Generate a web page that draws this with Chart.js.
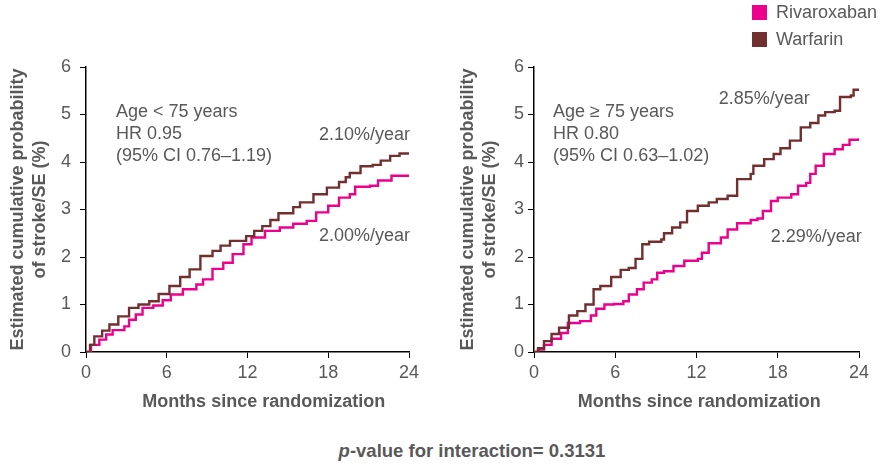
<!DOCTYPE html>
<html>
<head>
<meta charset="UTF-8">
<title>Stroke/SE by age</title>
<script src="https://cdn.jsdelivr.net/npm/chart.js"></script>
<style>
  body { margin: 0; background: #fff; font-family: "Liberation Sans", Arial, sans-serif; color: #595959; }
  #wrap { position: relative; width: 881px; height: 465px; overflow: hidden; }
  canvas { position: absolute; top: 0; }
  #left { left: 0; }
  #right { left: 448px; }
  .key { position: absolute; left: 752px; height: 15px; font-size: 18px; line-height: 15px; white-space: nowrap; }
  .key span { display: inline-block; width: 15px; height: 15px; vertical-align: top; margin-right: 9px; }
  #pval { position: absolute; left: 0; width: 944px; top: 440px; text-align: center; font-weight: bold; font-size: 18.5px; }
</style>
</head>
<body>
<div id="wrap">
  <canvas id="left" width="440" height="420"></canvas>
  <canvas id="right" width="433" height="420"></canvas>
  <div id="legend"></div>
  <div id="pval"><i>p</i>-value for interaction= 0.3131</div>
</div>
<script>
// series names and colours
const seriesNames = ['Rivaroxaban', 'Warfarin'];
const seriesColors = ['#ec008c', '#722f2f'];

// axis ticks
const monthTicks = [0, 6, 12, 18, 24];
const riskTicks = [0, 1, 2, 3, 4, 5, 6];

// Age < 75 years
const youngRivaMonths = [0, 0.37, 0.99, 1.5, 1.98, 2.85, 3.2, 3.7, 4.2, 5.0, 5.7, 6.3, 7.2, 8.2, 8.7, 9.4, 10.2, 10.9, 11.7, 12.3, 13.3, 14.4, 15.4, 16.4, 17.1, 18.0, 18.8, 19.6, 20.0, 21.1, 21.7, 22.7, 24];
const youngRivaRisk   = [0, 0.15, 0.26, 0.37, 0.46, 0.54, 0.68, 0.79, 0.93, 0.98, 1.09, 1.21, 1.32, 1.42, 1.53, 1.75, 1.88, 2.06, 2.27, 2.41, 2.55, 2.62, 2.70, 2.76, 2.94, 3.08, 3.25, 3.32, 3.48, 3.50, 3.61, 3.71, 3.73];
const youngWarfMonths = [0, 0.3, 0.62, 1.2, 1.74, 2.4, 3.2, 3.9, 4.7, 5.4, 6.2, 7.0, 7.7, 8.5, 9.4, 10.0, 10.7, 11.9, 12.5, 13.1, 13.7, 14.3, 15.0, 15.4, 15.9, 16.9, 17.9, 18.8, 19.3, 19.6, 20.4, 21.3, 21.9, 22.6, 23.3, 24];
const youngWarfRisk   = [0, 0.15, 0.33, 0.45, 0.58, 0.75, 0.93, 1.0, 1.07, 1.22, 1.39, 1.58, 1.74, 2.02, 2.13, 2.24, 2.34, 2.44, 2.55, 2.65, 2.78, 2.92, 2.92, 3.05, 3.15, 3.32, 3.46, 3.58, 3.68, 3.77, 3.91, 3.94, 4.03, 4.13, 4.18, 4.18];

// Age >= 75 years
const oldRivaMonths = [0, 0.3, 0.74, 1.3, 2.0, 2.5, 3.4, 4.2, 4.6, 5.2, 5.9, 6.6, 7.0, 7.6, 8.1, 8.7, 9.1, 9.6, 10.3, 11.1, 12.1, 12.4, 12.9, 13.8, 14.3, 15.0, 16.0, 16.5, 16.9, 17.5, 18.0, 19.0, 19.5, 20.1, 20.4, 20.8, 21.4, 22.2, 22.8, 23.3, 24];
const oldRivaRisk   = [0, 0.05, 0.15, 0.28, 0.40, 0.61, 0.65, 0.77, 0.91, 1.0, 1.01, 1.07, 1.21, 1.32, 1.46, 1.53, 1.67, 1.70, 1.81, 1.92, 1.96, 2.09, 2.29, 2.41, 2.58, 2.71, 2.78, 2.81, 2.97, 3.18, 3.25, 3.32, 3.50, 3.56, 3.75, 3.92, 4.17, 4.27, 4.36, 4.47, 4.50];
const oldWarfMonths = [0, 0.3, 0.74, 1.3, 1.85, 2.58, 3.2, 3.8, 4.4, 4.9, 5.7, 6.4, 7.0, 7.5, 8.0, 8.5, 9.4, 9.6, 10.2, 10.8, 11.3, 12.1, 12.9, 13.5, 14.3, 15.0, 16.0, 16.2, 17.0, 17.7, 18.2, 18.9, 19.7, 20.4, 21.0, 21.5, 22.2, 22.6, 23.4, 23.6, 24];
const oldWarfRisk   = [0, 0.08, 0.23, 0.38, 0.51, 0.77, 0.86, 1.0, 1.32, 1.39, 1.58, 1.73, 1.77, 1.96, 2.27, 2.32, 2.37, 2.50, 2.62, 2.73, 2.97, 3.08, 3.15, 3.22, 3.29, 3.64, 3.75, 3.92, 4.06, 4.17, 4.29, 4.45, 4.73, 4.82, 4.98, 5.05, 5.08, 5.37, 5.40, 5.52, 5.52];

const TEXT = '#595959';
const FONT = '"Liberation Sans", Arial, sans-serif';

const zip = (xs, ys) => xs.map((x, i) => ({ x, y: ys[i] }));

// small plugin: free text placed in data units
const notesPlugin = {
  id: 'notes',
  afterDraw(chart, args, opts) {
    const { ctx, scales: { x, y } } = chart;
    ctx.save();
    (opts.items || []).forEach(it => {
      ctx.font = (it.bold ? 'bold ' : '') + (it.size || 18) + 'px ' + FONT;
      ctx.fillStyle = TEXT;
      ctx.textAlign = it.align || 'left';
      ctx.textBaseline = 'middle';
      const px = x.getPixelForValue(it.x);
      const py = it.y !== undefined ? y.getPixelForValue(it.y) : y.bottom + it.below;
      [].concat(it.text).forEach((line, i) => ctx.fillText(line, px, py + i * 22));
    });
    ctx.restore();
  }
};

function makeChart(id, riva, warf, notes, titlePad, rightPad, labelPad) {
  return new Chart(document.getElementById(id), {
    type: 'line',
    data: {
      datasets: [
        { label: seriesNames[1], data: warf, borderColor: seriesColors[1], borderWidth: 2.4, stepped: true, pointRadius: 0, fill: false },
        { label: seriesNames[0], data: riva, borderColor: seriesColors[0], borderWidth: 2.4, stepped: true, pointRadius: 0, fill: false }
      ]
    },
    options: {
      responsive: false,
      animation: false,
      layout: { padding: { top: 67, right: rightPad, left: 0, bottom: 0 } },
      plugins: { legend: { display: false }, tooltip: { enabled: false }, notes: { items: notes } },
      scales: {
        x: {
          type: 'linear', min: 0, max: 24,
          afterBuildTicks: s => { s.ticks = monthTicks.map(v => ({ value: v })); },
          afterFit: s => { s.height = 68; },
          grid: { drawOnChartArea: false, drawTicks: true, tickLength: 6, color: '#000', lineWidth: 1 },
          border: { color: '#000', width: 1.5 },
          ticks: { color: TEXT, font: { family: FONT, size: 18 }, padding: 4, maxRotation: 0 }
        },
        y: {
          min: 0, max: 6,
          afterBuildTicks: s => { s.ticks = riskTicks.map(v => ({ value: v })); },
          afterFit: s => { s.width = 86; },
          grid: { drawOnChartArea: false, drawTicks: true, tickLength: 6, color: '#000', lineWidth: 1 },
          border: { color: '#000', width: 1.5 },
          ticks: { color: TEXT, font: { family: FONT, size: 18 }, padding: labelPad },
          title: {
            display: true,
            text: ['Estimated cumulative probability', 'of stroke/SE (%)'],
            color: TEXT,
            font: { family: FONT, size: 18, weight: 'bold', lineHeight: 1.22 },
            padding: { top: titlePad, bottom: 0 }
          }
        }
      }
    },
    plugins: [notesPlugin]
  });
}

makeChart('left', zip(youngRivaMonths, youngRivaRisk), zip(youngWarfMonths, youngWarfRisk), [
  { text: ['Age < 75 years', 'HR 0.95', '(95% CI 0.76\u20131.19)'], x: 2.23, y: 5.06 },
  { text: '2.10%/year', x: 24.07, y: 4.57, align: 'right' },
  { text: '2.00%/year', x: 24.07, y: 2.45, align: 'right' },
  { text: 'Months since randomization', x: 13.2, below: 50, bold: true, align: 'center' }
], 7, 31, 9);

makeChart('right', zip(oldRivaMonths, oldRivaRisk), zip(oldWarfMonths, oldWarfRisk), [
  { text: ['Age \u2265 75 years', 'HR 0.80', '(95% CI 0.63\u20131.02)'], x: 1.41, y: 5.05 },
  { text: '2.85%/year', x: 20.37, y: 5.32, align: 'right' },
  { text: '2.29%/year', x: 24.2, y: 2.43, align: 'right' },
  { text: 'Months since randomization', x: 12.2, below: 50, bold: true, align: 'center' }
], 9, 22, 4);

// legend boxes top right
const legend = document.getElementById('legend');
seriesNames.forEach((name, i) => {
  const row = document.createElement('div');
  row.className = 'key';
  row.style.top = (5 + i * 27) + 'px';
  row.innerHTML = '<span style="background:' + seriesColors[i] + '"></span>' + name;
  legend.appendChild(row);
});
</script>
</body>
</html>
